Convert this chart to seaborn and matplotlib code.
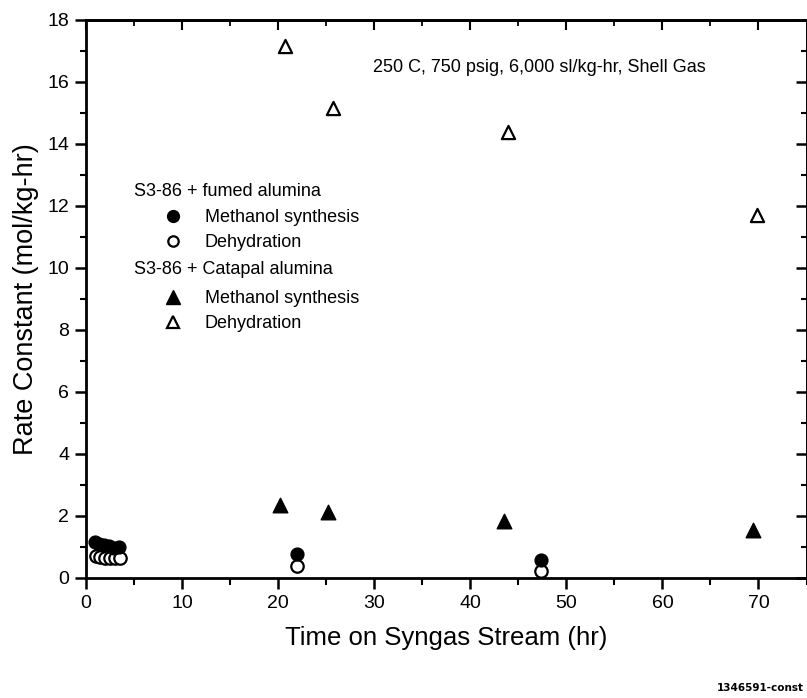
import matplotlib
matplotlib.use("Agg")
import matplotlib.pyplot as plt
import seaborn as sns
import pandas as pd
from matplotlib.lines import Line2D
from matplotlib.ticker import MultipleLocator

# Data
fumed_meth_x = [0.9, 1.4, 1.9, 2.4, 2.9, 3.4, 22.0, 47.4]
fumed_meth_y = [1.15, 1.1, 1.05, 1.02, 0.97, 1.0, 0.78, 0.57]
fumed_dehy_x = [1.0, 1.5, 2.0, 2.5, 3.0, 3.5, 22.0, 47.4]
fumed_dehy_y = [0.72, 0.68, 0.66, 0.65, 0.65, 0.63, 0.40, 0.22]
cat_meth_x = [20.2, 25.2, 43.5, 69.4]
cat_meth_y = [2.37, 2.12, 1.83, 1.55]
cat_dehy_x = [20.7, 25.7, 43.9, 69.8]
cat_dehy_y = [17.15, 15.15, 14.4, 11.7]

series_labels = ["Methanol synthesis", "Dehydration"]
group_titles = ["S3-86 + fumed alumina", "S3-86 + Catapal alumina"]
annotation = "250 C, 750 psig, 6,000 sl/kg-hr, Shell Gas"
xlabel = "Time on Syngas Stream (hr)"
ylabel = "Rate Constant (mol/kg-hr)"
footer = "1346591-const"

sns.set_theme(style="ticks")
plt.rcParams["font.family"] = ["Liberation Sans", "DejaVu Sans"]
for k in ["text.color", "axes.labelcolor", "xtick.color", "ytick.color", "axes.edgecolor"]:
    plt.rcParams[k] = "black"

W, H = 807, 698
fig = plt.figure(figsize=(W/100, H/100), dpi=100)
L, R, T, B = 86, 806.5, 20, 578
ax = fig.add_axes([L/W, 1-B/H, (R-L)/W, (B-T)/H])

df1 = pd.DataFrame({"x": fumed_meth_x, "y": fumed_meth_y})
df2 = pd.DataFrame({"x": fumed_dehy_x, "y": fumed_dehy_y})
df3 = pd.DataFrame({"x": cat_meth_x, "y": cat_meth_y})
df4 = pd.DataFrame({"x": cat_dehy_x, "y": cat_dehy_y})

sns.scatterplot(data=df2, x="x", y="y", ax=ax, marker="o", s=80,
                facecolor="white", edgecolor="black", linewidth=1.6, zorder=3)
sns.scatterplot(data=df1, x="x", y="y", ax=ax, marker="o", s=85,
                color="black", edgecolor="black", linewidth=1.0, zorder=4)
sns.scatterplot(data=df3, x="x", y="y", ax=ax, marker="^", s=110,
                color="black", edgecolor="black", linewidth=1.0, zorder=3)
sns.scatterplot(data=df4, x="x", y="y", ax=ax, marker="^", s=90,
                facecolor="white", edgecolor="black", linewidth=1.6, zorder=3)

ax.set_xlim(0, 75)
ax.set_ylim(0, 18)
ax.xaxis.set_major_locator(MultipleLocator(10))
ax.xaxis.set_minor_locator(MultipleLocator(5))
ax.yaxis.set_major_locator(MultipleLocator(2))
ax.yaxis.set_minor_locator(MultipleLocator(1))

for s in ax.spines.values():
    s.set_linewidth(2.0)
    s.set_color("black")
ax.tick_params(axis="x", which="major", direction="out", length=8, width=1.8, labelsize=14, pad=4)
ax.tick_params(axis="x", which="minor", direction="out", length=5, width=1.5)
ax.tick_params(axis="y", which="major", direction="out", length=8, width=1.8, labelsize=14, pad=4)
ax.tick_params(axis="y", which="minor", direction="out", length=4, width=1.5)
ax.tick_params(which="both", top=False, right=False)
# inward ticks on top/right
ax2 = ax.secondary_xaxis("top")
ax2.xaxis.set_major_locator(MultipleLocator(10))
ax2.xaxis.set_minor_locator(MultipleLocator(5))
ax2.tick_params(which="major", direction="in", length=7, width=1.5, labeltop=False)
ax2.tick_params(which="minor", direction="in", length=4, width=1.3)
ax2.spines["top"].set_linewidth(2.0)
ay2 = ax.secondary_yaxis("right")
ay2.yaxis.set_major_locator(MultipleLocator(2))
ay2.yaxis.set_minor_locator(MultipleLocator(1))
ay2.tick_params(which="major", direction="in", length=8, width=1.8, labelright=False)
ay2.tick_params(which="minor", direction="in", length=4, width=1.5)
ay2.spines["right"].set_linewidth(2.0)

ax.set_xlabel(xlabel, fontsize=18.5, labelpad=10)
ax.set_ylabel(ylabel, fontsize=19.5, labelpad=6)

fig.text(373/W, 1-68/H, annotation, fontsize=13, ha="left", va="center")

# Legend group headers
fig.text(134/W, 1-191/H, group_titles[0], fontsize=13, ha="left", va="center")
fig.text(134/W, 1-269/H, group_titles[1], fontsize=13, ha="left", va="center")

h_meth1 = Line2D([], [], linestyle="none", marker="o", markersize=8.5,
                 markerfacecolor="black", markeredgecolor="black")
h_dehy1 = Line2D([], [], linestyle="none", marker="o", markersize=7.5,
                 markerfacecolor="white", markeredgecolor="black", markeredgewidth=1.6)
h_meth2 = Line2D([], [], linestyle="none", marker="^", markersize=10,
                 markerfacecolor="black", markeredgecolor="black")
h_dehy2 = Line2D([], [], linestyle="none", marker="^", markersize=8.5,
                 markerfacecolor="white", markeredgecolor="black", markeredgewidth=1.6)

fs = 13
fpx = fs * 100 / 72
hl_px = 28
leg_kw = dict(frameon=False, fontsize=fs, loc="upper left",
              handlelength=hl_px / fpx, handletextpad=(205 - (173 + hl_px / 2)) / fpx,
              labelspacing=0.45, borderpad=0, borderaxespad=0)
x0 = (173 - hl_px / 2) / W
leg1 = ax.legend([h_meth1, h_dehy1], series_labels,
                 bbox_to_anchor=(x0, 1-209/H), bbox_transform=fig.transFigure, **leg_kw)
ax.add_artist(leg1)
leg2 = ax.legend([h_meth2, h_dehy2], series_labels,
                 bbox_to_anchor=(x0, 1-290/H), bbox_transform=fig.transFigure, **leg_kw)

fig.text(760/W, 1-688/H, footer, fontsize=7.5, fontweight="bold",
         family="DejaVu Sans", ha="center", va="center")

fig.savefig("out.png", dpi=100)
